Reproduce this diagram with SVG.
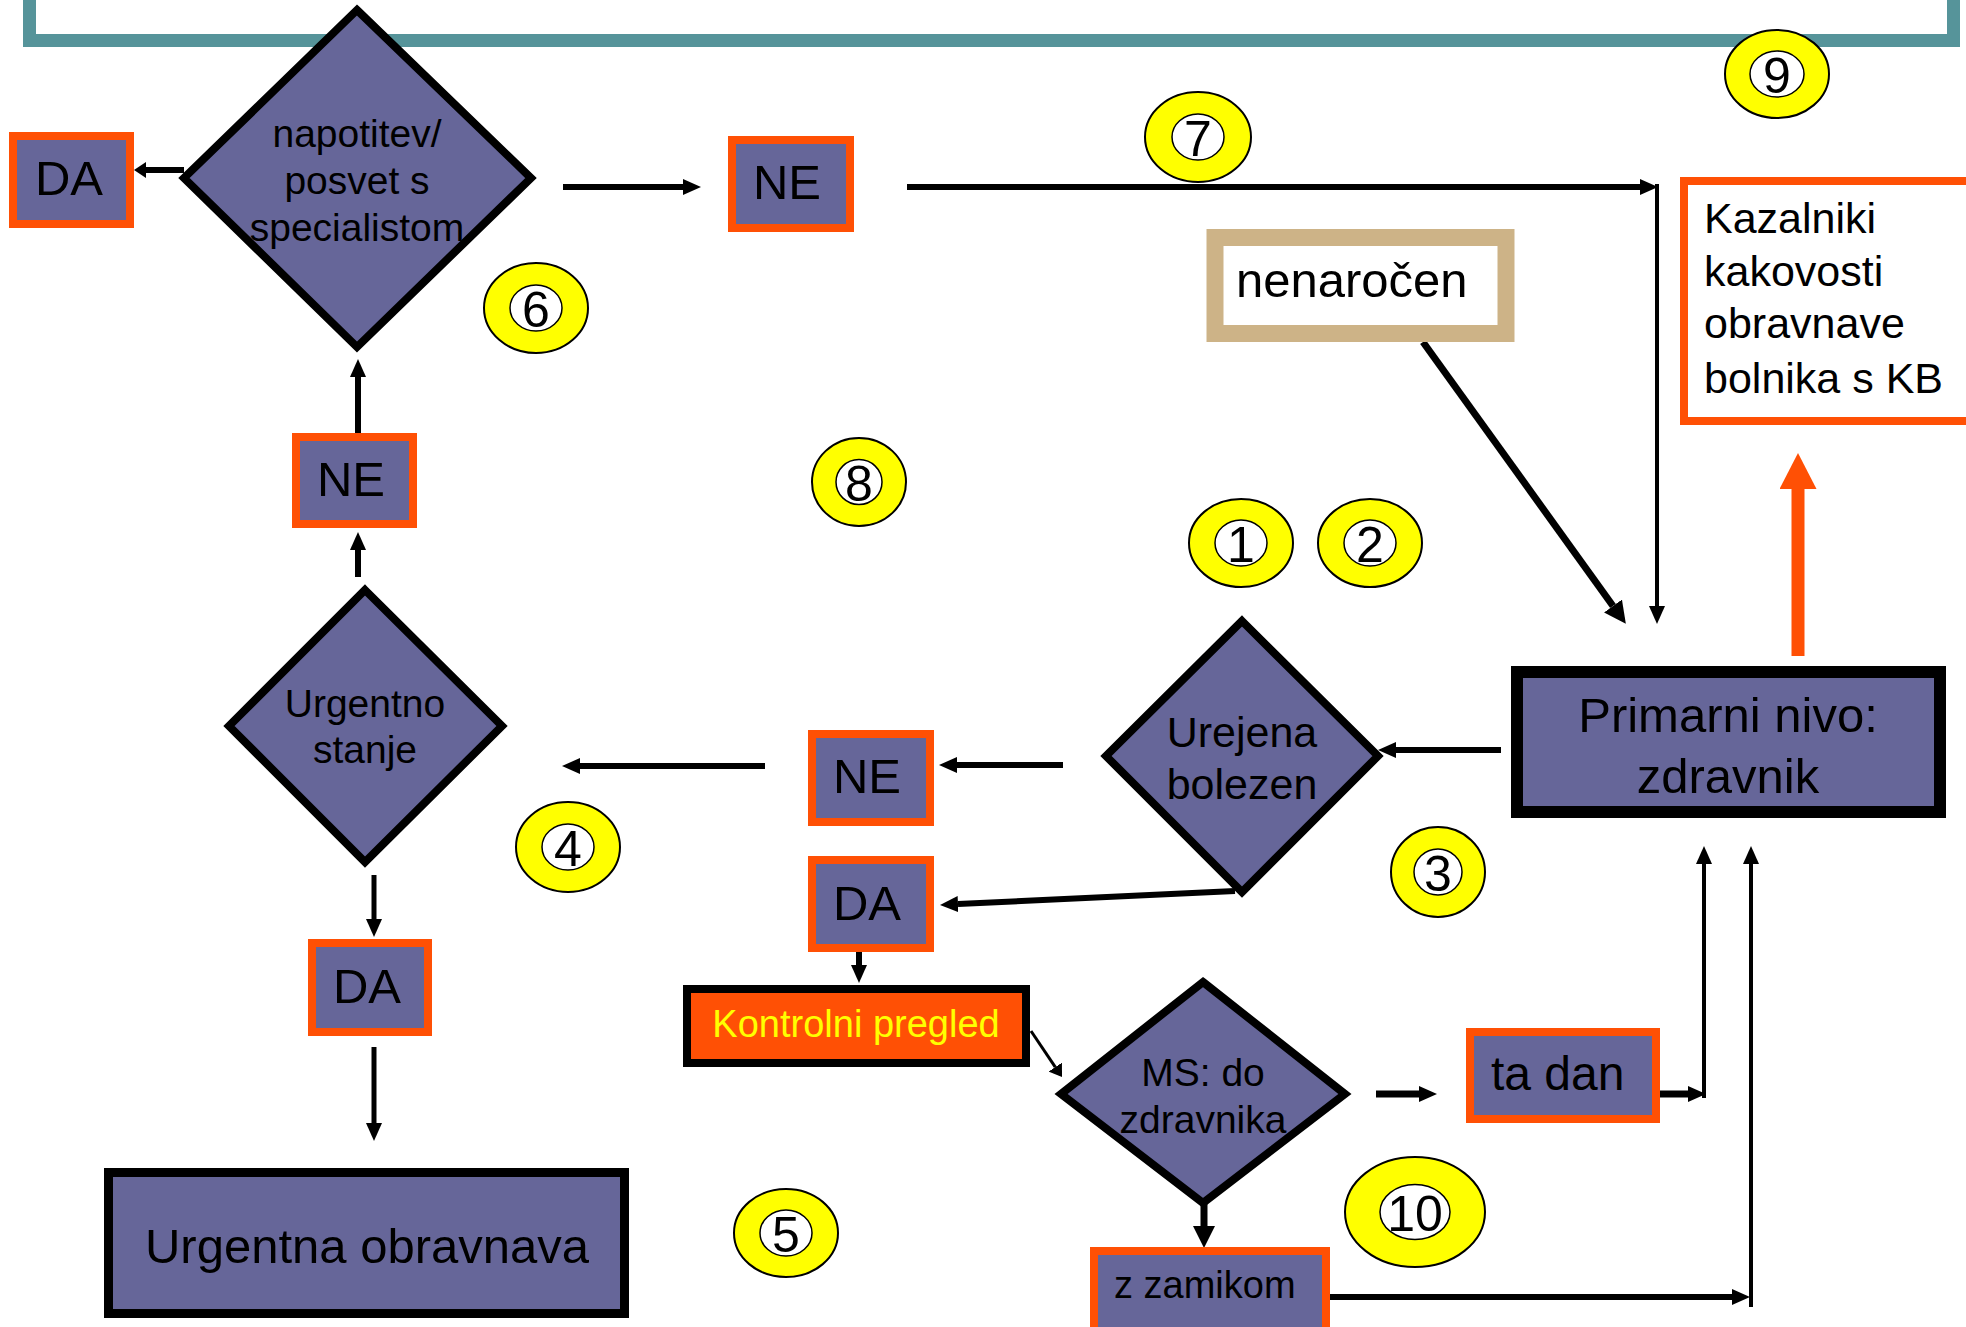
<svg xmlns="http://www.w3.org/2000/svg" width="1966" height="1327" viewBox="0 0 1966 1327">
<style>
text{font-family:"Liberation Sans",Arial,sans-serif;fill:#000}
.box{fill:#666699;stroke:#FF5005;stroke-width:8}
.dia{fill:#666699;stroke:#000;stroke-width:8}
.t50{font-size:49px;text-anchor:middle}
.t39{font-size:39px;text-anchor:middle}
.t43{font-size:43px;text-anchor:middle}
.ln{stroke:#000;fill:none;stroke-width:6}
.c{fill:#FFFF00;stroke:#000;stroke-width:2}
.ci{fill:#fff;stroke:#000;stroke-width:1.5}
.cn{font-size:50px;text-anchor:middle}
</style>
<defs>
<marker id="ah" markerUnits="userSpaceOnUse" markerWidth="18" markerHeight="16" refX="0" refY="8" orient="auto"><path d="M0,0 L18,8 L0,16 Z" fill="#000"/></marker>
<marker id="ahs" markerUnits="userSpaceOnUse" markerWidth="12" markerHeight="16" refX="0" refY="8" orient="auto"><path d="M0,0 L12,8 L0,16 Z" fill="#000"/></marker>
<marker id="ahm" markerUnits="userSpaceOnUse" markerWidth="22" markerHeight="22" refX="0" refY="11" orient="auto"><path d="M0,0 L22,11 L0,22 Z" fill="#000"/></marker>
<marker id="aho" markerUnits="userSpaceOnUse" markerWidth="36" markerHeight="37" refX="0" refY="18.5" orient="auto"><path d="M0,0 L36,18.5 L0,37 Z" fill="#FF5005"/></marker>
</defs>
<rect width="1966" height="1327" fill="#fff"/>
<rect id="frame" x="29.5" y="-60" width="1924" height="100.5" fill="none" stroke="#56949A" stroke-width="13"/>

<g id="connectors">
<line class="ln" x1="184" y1="170" x2="146" y2="170" marker-end="url(#ahs)"/>
<line class="ln" x1="563" y1="187" x2="683" y2="187" marker-end="url(#ah)"/>
<line class="ln" x1="907" y1="187" x2="1640" y2="187" marker-end="url(#ah)"/>
<line class="ln" style="stroke-width:4" x1="1657" y1="184" x2="1657" y2="606" marker-end="url(#ah)"/>
<line class="ln" style="stroke-width:7" x1="1423" y1="342" x2="1613" y2="606" marker-end="url(#ahm)"/>
<line class="ln" style="stroke:#FF5005;stroke-width:13" x1="1798" y1="656" x2="1798" y2="489" marker-end="url(#aho)"/>
<line class="ln" x1="1501" y1="750" x2="1396" y2="750" marker-end="url(#ah)"/>
<line class="ln" x1="1063" y1="765" x2="957" y2="765" marker-end="url(#ah)"/>
<line class="ln" x1="765" y1="766" x2="580" y2="766" marker-end="url(#ah)"/>
<line class="ln" x1="358" y1="577" x2="358" y2="550" marker-end="url(#ah)"/>
<line class="ln" x1="358" y1="433" x2="358" y2="377" marker-end="url(#ah)"/>
<line class="ln" x1="1235" y1="891" x2="958" y2="904.1" marker-end="url(#ah)"/>
<line class="ln" x1="859" y1="952" x2="859" y2="965" marker-end="url(#ah)"/>
<line class="ln" style="stroke-width:3" x1="1031" y1="1031" x2="1055.3" y2="1067.1" marker-end="url(#ahs)"/>
<line class="ln" style="stroke-width:7" x1="1376" y1="1094" x2="1419" y2="1094" marker-end="url(#ah)"/>
<line class="ln" style="stroke-width:7" x1="1660" y1="1094" x2="1688" y2="1094" marker-end="url(#ah)"/>
<line class="ln" style="stroke-width:4" x1="1704" y1="1098" x2="1704" y2="864" marker-end="url(#ah)"/>
<line class="ln" style="stroke-width:7" x1="1204" y1="1203" x2="1204" y2="1226" marker-end="url(#ahm)"/>
<line class="ln" x1="1330" y1="1297" x2="1732" y2="1297" marker-end="url(#ah)"/>
<line class="ln" style="stroke-width:4" x1="1751" y1="1307" x2="1751" y2="864" marker-end="url(#ah)"/>
<line class="ln" style="stroke-width:5" x1="374" y1="875" x2="374" y2="919" marker-end="url(#ah)"/>
<line class="ln" style="stroke-width:5" x1="374" y1="1047" x2="374" y2="1123" marker-end="url(#ah)"/>
</g>

<g id="napotitev">
<polygon class="dia" points="357,10 531,178 357,347 184,178"/>
<text class="t39" x="357" y="147">napotitev/</text>
<text class="t39" x="357" y="194">posvet s</text>
<text class="t39" x="357" y="241">specialistom</text>
</g>
<g id="da-top">
<rect class="box" x="13" y="136" width="117" height="88"/>
<text class="t50" x="69" y="195">DA</text>
</g>
<g id="ne-top">
<rect class="box" x="732" y="140" width="118" height="88"/>
<text class="t50" x="787" y="199">NE</text>
</g>
<g id="kazalniki">
<rect x="1684" y="181" width="320" height="240" fill="#fff" stroke="#FF5005" stroke-width="8"/>
<text x="1704" y="233" font-size="43">Kazalniki</text>
<text x="1704" y="286" font-size="43">kakovosti</text>
<text x="1704" y="338" font-size="43">obravnave</text>
<text x="1704" y="393" font-size="43">bolnika s KB</text>
</g>
<g id="nenarocen">
<rect x="1215" y="237.5" width="291" height="96" fill="#fff" stroke="#CDB387" stroke-width="17"/>
<text x="1236" y="297" font-size="49">nenaročen</text>
</g>
<g id="ne-left">
<rect class="box" x="296" y="437" width="117" height="87"/>
<text class="t50" x="351" y="496">NE</text>
</g>
<g id="urgentno">
<polygon class="dia" points="365,590 502,726 365,862 229,726"/>
<text class="t39" x="365" y="717">Urgentno</text>
<text class="t39" x="365" y="763">stanje</text>
</g>
<g id="urejena">
<polygon class="dia" points="1242,621 1378,756 1242,892 1106,756"/>
<text class="t43" x="1242" y="747">Urejena</text>
<text class="t43" x="1242" y="799">bolezen</text>
</g>
<g id="primarni">
<rect x="1517" y="672" width="423" height="140" fill="#666699" stroke="#000" stroke-width="12"/>
<text class="t50" x="1728" y="732">Primarni nivo:</text>
<text class="t50" x="1728" y="793">zdravnik</text>
</g>
<g id="ne-mid">
<rect class="box" x="812" y="734" width="118" height="88"/>
<text class="t50" x="867" y="793">NE</text>
</g>
<g id="da-mid">
<rect class="box" x="812" y="860" width="118" height="88"/>
<text class="t50" x="867" y="920">DA</text>
</g>
<g id="kontrolni">
<rect x="687" y="989" width="339" height="74" fill="#FF5005" stroke="#000" stroke-width="8"/>
<text x="856" y="1037" font-size="38" text-anchor="middle" style="fill:#FFFF00">Kontrolni pregled</text>
</g>
<g id="ms">
<polygon class="dia" points="1203,982 1345,1094 1203,1203 1061,1094"/>
<text class="t39" x="1203" y="1086">MS: do</text>
<text class="t39" x="1203" y="1133">zdravnika</text>
</g>
<g id="ta-dan">
<rect class="box" x="1470" y="1032" width="186" height="87"/>
<text x="1491" y="1090" font-size="48">ta dan</text>
</g>
<g id="z-zamikom">
<rect class="box" x="1094" y="1251" width="232" height="80"/>
<text x="1114" y="1298" font-size="38">z zamikom</text>
</g>
<g id="da-left">
<rect class="box" x="312" y="943" width="116" height="89"/>
<text class="t50" x="367" y="1003">DA</text>
</g>
<g id="urgentna">
<rect x="108.5" y="1172.5" width="516" height="141" fill="#666699" stroke="#000" stroke-width="9"/>
<text class="t50" x="367" y="1263">Urgentna obravnava</text>
</g>

<g id="n1"><ellipse class="c" cx="1241" cy="543" rx="52" ry="44"/><ellipse class="ci" cx="1241" cy="543" rx="26" ry="23"/><text class="cn" x="1241" y="562">1</text></g>
<g id="n2"><ellipse class="c" cx="1370" cy="543" rx="52" ry="44"/><ellipse class="ci" cx="1370" cy="543" rx="26" ry="23"/><text class="cn" x="1370" y="562">2</text></g>
<g id="n3"><ellipse class="c" cx="1438" cy="872" rx="47" ry="45"/><ellipse class="ci" cx="1438" cy="872" rx="24" ry="23"/><text class="cn" x="1438" y="891">3</text></g>
<g id="n4"><ellipse class="c" cx="568" cy="847" rx="52" ry="45"/><ellipse class="ci" cx="568" cy="847" rx="26" ry="23"/><text class="cn" x="568" y="866">4</text></g>
<g id="n5"><ellipse class="c" cx="786" cy="1233" rx="52" ry="44"/><ellipse class="ci" cx="786" cy="1233" rx="26" ry="23"/><text class="cn" x="786" y="1252">5</text></g>
<g id="n6"><ellipse class="c" cx="536" cy="308" rx="52" ry="45"/><ellipse class="ci" cx="536" cy="308" rx="26" ry="23"/><text class="cn" x="536" y="327">6</text></g>
<g id="n7"><ellipse class="c" cx="1198" cy="137" rx="53" ry="45"/><ellipse class="ci" cx="1198" cy="137" rx="26" ry="23"/><text class="cn" x="1198" y="156">7</text></g>
<g id="n8"><ellipse class="c" cx="859" cy="482" rx="47" ry="44"/><ellipse class="ci" cx="859" cy="482" rx="23" ry="22.5"/><text class="cn" x="859" y="501">8</text></g>
<g id="n9"><ellipse class="c" cx="1777" cy="74" rx="52" ry="44"/><ellipse class="ci" cx="1777" cy="74" rx="27" ry="23"/><text class="cn" x="1777" y="93">9</text></g>
<g id="n10"><ellipse class="c" cx="1415" cy="1212" rx="70" ry="55"/><ellipse class="ci" cx="1415" cy="1212" rx="35" ry="27.5"/><text class="cn" x="1415" y="1231" font-size="52">10</text></g>
</svg>
